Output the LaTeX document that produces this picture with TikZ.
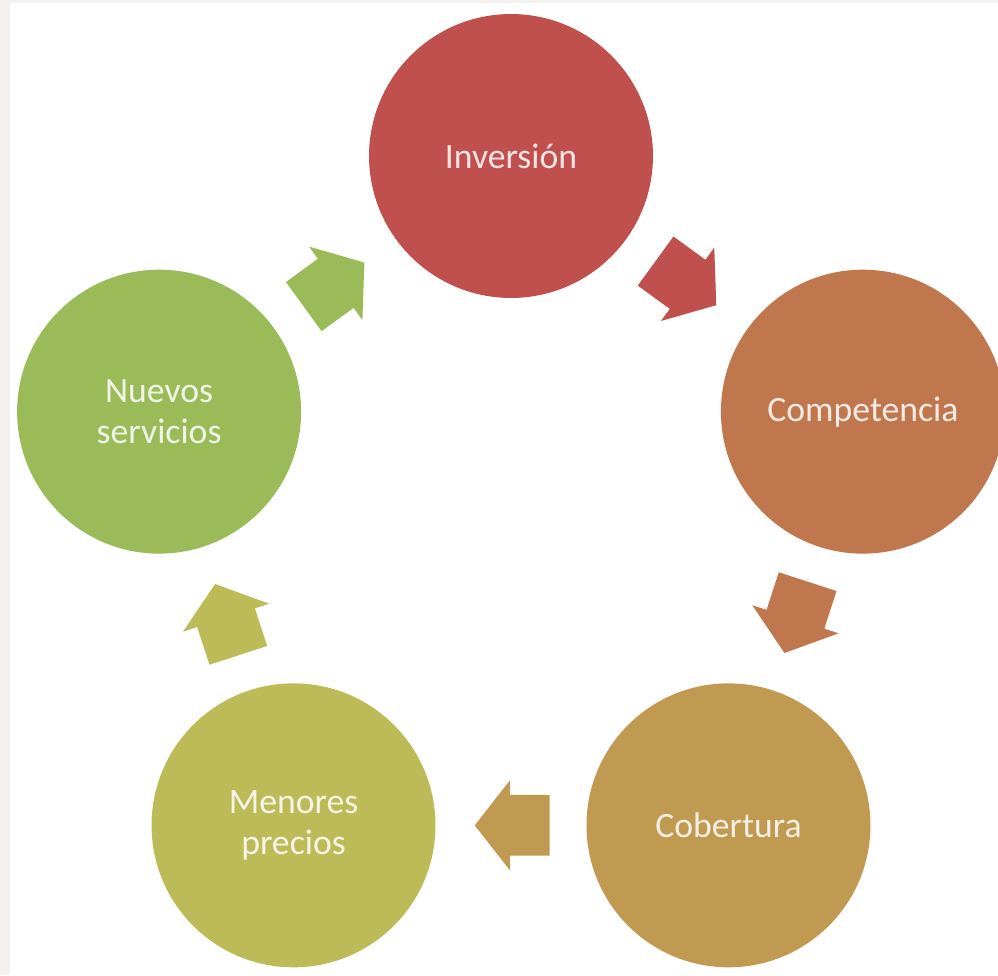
\documentclass[tikz,border=0pt]{standalone}
\usepackage{fontspec}
\setmainfont{Carlito}
\usetikzlibrary{shapes.arrows,calc}

\definecolor{invcol}{HTML}{C0504D}
\definecolor{compcol}{HTML}{C0774E}
\definecolor{cobcol}{HTML}{C09A50}
\definecolor{mencol}{HTML}{BDBB58}
\definecolor{nuecol}{HTML}{9BBB59}
\definecolor{edgecol}{HTML}{F4F1EE}

\tikzset{
  bubble/.style={circle, minimum size=5.68cm, inner sep=0pt, align=center,
    text=white, text opacity=0.85, font=\fontsize{20.3}{23}\selectfont},
  flow/.style={single arrow, draw=none, minimum height=1.5cm,
    inner xsep=0pt, inner ysep=0.6cm, single arrow head extend=0.3cm,
    single arrow tip angle=104, sloped, allow upside down, pos=0.24, anchor=tail}
}

\begin{document}
\begin{tikzpicture}[x=0.02cm, y=0.02cm]
        % background and frame
        \fill [edgecol] (0,0) rectangle (998,975);
        \fill [white] (10,0) rectangle (998,972);
        \useasboundingbox (0,0) rectangle (998,975);
        \coordinate (c) at (511,449);
        % circles
        \node [bubble, fill=invcol] (inv) at ($(c)+(90:370)$) {Inversión};
        \node [bubble, fill=compcol] (comp) at ($(c)+(18:370)$) {Competencia};
        \node [bubble, fill=cobcol] (cob) at ($(c)+(-54:370)$) {Cobertura};
        \node [bubble, fill=mencol] (men) at ($(c)+(-126:370)$) {Menores\\precios};
        \node [bubble, fill=nuecol] (nue) at ($(c)+(162:370)$) {Nuevos\\servicios};
        % arrows
        \path (inv) -- (comp) node [flow, fill=invcol] {};
        \path (comp) -- (cob) node [flow, fill=compcol] {};
        \path (cob) -- (men) node [flow, fill=cobcol] {};
        \path (men) -- (nue) node [flow, fill=mencol] {};
        \path (nue) -- (inv) node [flow, fill=nuecol] {};
      \end{tikzpicture}
\end{document}
